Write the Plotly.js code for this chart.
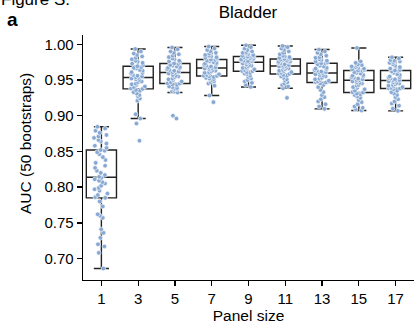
<!DOCTYPE html>
<html>
<head>
<meta charset="utf-8">
<script src="https://cdn.plot.ly/plotly-3.0.1.min.js"></script>
<style>
  html, body { margin: 0; padding: 0; background: #ffffff; }
  #chart { width: 414px; height: 325px; }
</style>
</head>
<body>
<div id="chart"></div>
<script>
// Panel sizes on the x axis
const panelSizes = ['1', '3', '5', '7', '9', '11', '13', '15', '17'];

// AUC over 50 bootstraps for each panel size
const auc1 = [0.686, 0.708, 0.717, 0.720, 0.729, 0.736, 0.741, 0.757, 0.760, 0.762, 0.773, 0.780,
  0.785, 0.786, 0.789, 0.791, 0.795, 0.797, 0.799, 0.802, 0.805, 0.807, 0.809, 0.811,
  0.813, 0.8145, 0.817, 0.820, 0.823, 0.827, 0.830, 0.834, 0.838, 0.842, 0.846, 0.849,
  0.851, 0.852, 0.855, 0.858, 0.861, 0.864, 0.866, 0.869, 0.871, 0.873, 0.876, 0.879, 0.882, 0.8845];
const auc3 = [0.865, 0.889, 0.896, 0.902, 0.921, 0.924, 0.927, 0.929, 0.931, 0.933, 0.935, 0.936,
  0.9376, 0.938, 0.940, 0.941, 0.943, 0.944, 0.945, 0.947, 0.948, 0.950, 0.951, 0.952,
  0.953, 0.9538, 0.955, 0.956, 0.957, 0.959, 0.960, 0.961, 0.963, 0.964, 0.966, 0.967,
  0.968, 0.9693, 0.971, 0.973, 0.974, 0.976, 0.977, 0.979, 0.981, 0.983, 0.985, 0.987, 0.990, 0.9934];
const auc5 = [0.896, 0.900, 0.9325, 0.934, 0.936, 0.937, 0.938, 0.939, 0.940, 0.941, 0.943, 0.944,
  0.945, 0.9455, 0.947, 0.948, 0.950, 0.951, 0.952, 0.954, 0.955, 0.956, 0.957, 0.959,
  0.960, 0.9608, 0.962, 0.963, 0.964, 0.965, 0.966, 0.967, 0.968, 0.969, 0.970, 0.971,
  0.9725, 0.973, 0.975, 0.976, 0.977, 0.979, 0.980, 0.982, 0.984, 0.986, 0.988, 0.990, 0.993, 0.9954];
const auc7 = [0.919, 0.9283, 0.942, 0.945, 0.947, 0.948, 0.950, 0.951, 0.952, 0.953, 0.954, 0.955,
  0.9557, 0.956, 0.957, 0.958, 0.959, 0.960, 0.961, 0.962, 0.963, 0.964, 0.965, 0.966,
  0.9665, 0.9673, 0.968, 0.969, 0.970, 0.971, 0.972, 0.973, 0.974, 0.975, 0.976, 0.977,
  0.978, 0.9786, 0.980, 0.981, 0.982, 0.983, 0.984, 0.985, 0.987, 0.988, 0.990, 0.992, 0.994, 0.9968];
const auc9 = [0.9403, 0.943, 0.946, 0.948, 0.950, 0.952, 0.954, 0.956, 0.958, 0.959, 0.960, 0.961,
  0.9623, 0.9627, 0.964, 0.965, 0.966, 0.967, 0.968, 0.969, 0.970, 0.971, 0.972, 0.973,
  0.9745, 0.9753, 0.976, 0.9765, 0.977, 0.9775, 0.978, 0.979, 0.980, 0.9805, 0.981, 0.982,
  0.9823, 0.9828, 0.9835, 0.984, 0.985, 0.986, 0.987, 0.988, 0.989, 0.990, 0.992, 0.994, 0.996, 0.9986];
const auc11 = [0.925, 0.9385, 0.941, 0.943, 0.945, 0.947, 0.949, 0.951, 0.953, 0.955, 0.956, 0.957,
  0.9585, 0.959, 0.960, 0.961, 0.962, 0.963, 0.964, 0.965, 0.966, 0.967, 0.968, 0.969,
  0.9693, 0.970, 0.971, 0.972, 0.973, 0.974, 0.975, 0.9755, 0.976, 0.977, 0.978, 0.9785,
  0.979, 0.9795, 0.980, 0.981, 0.982, 0.983, 0.984, 0.986, 0.988, 0.990, 0.992, 0.994, 0.996, 0.9977];
const auc13 = [0.9096, 0.913, 0.916, 0.920, 0.923, 0.926, 0.929, 0.933, 0.936, 0.940, 0.943, 0.945,
  0.9465, 0.947, 0.948, 0.949, 0.950, 0.951, 0.952, 0.953, 0.955, 0.956, 0.957, 0.958,
  0.9595, 0.9603, 0.961, 0.962, 0.963, 0.964, 0.965, 0.966, 0.967, 0.969, 0.970, 0.972,
  0.973, 0.9735, 0.9745, 0.976, 0.977, 0.978, 0.979, 0.981, 0.982, 0.984, 0.986, 0.988, 0.990, 0.9926];
const auc15 = [0.9074, 0.909, 0.911, 0.913, 0.916, 0.919, 0.922, 0.925, 0.927, 0.929, 0.930, 0.931,
  0.9325, 0.933, 0.935, 0.937, 0.939, 0.940, 0.942, 0.943, 0.945, 0.946, 0.947, 0.948,
  0.9493, 0.950, 0.951, 0.952, 0.953, 0.954, 0.955, 0.956, 0.957, 0.959, 0.960, 0.961,
  0.9628, 0.9632, 0.964, 0.965, 0.966, 0.967, 0.968, 0.969, 0.970, 0.971, 0.972, 0.974, 0.976, 0.9948];
const auc17 = [0.9068, 0.910, 0.914, 0.917, 0.920, 0.923, 0.926, 0.929, 0.931, 0.933, 0.935, 0.937,
  0.9381, 0.9385, 0.939, 0.940, 0.941, 0.942, 0.943, 0.944, 0.945, 0.946, 0.947, 0.948,
  0.949, 0.9496, 0.950, 0.951, 0.952, 0.953, 0.954, 0.955, 0.957, 0.958, 0.960, 0.962,
  0.9628, 0.9632, 0.964, 0.966, 0.968, 0.970, 0.972, 0.974, 0.975, 0.976, 0.977, 0.978, 0.980, 0.9818];

const aucBySize = [auc1, auc3, auc5, auc7, auc9, auc11, auc13, auc15, auc17];

const yTickVals = [0.70, 0.75, 0.80, 0.85, 0.90, 0.95, 1.00];

const FONT = 'Arial, "Liberation Sans", Helvetica, sans-serif';
const W = 414, H = 325;
const M = { l: 83, r: 0, t: 35, b: 45 };
const plotW = W - M.l - M.r, plotH = H - M.t - M.b;
// helpers to place page-level labels by pixel position
const px = x => (x - M.l) / plotW;
const py = y => (H - M.b - y) / plotH;

const traces = aucBySize.map((vals, i) => ({
  type: 'box',
  name: panelSizes[i],
  x: vals.map(() => panelSizes[i]),
  y: vals,
  width: 0.82,
  boxpoints: 'all',
  jitter: 0.55,
  pointpos: 0,
  whiskerwidth: 0.5,
  fillcolor: 'rgba(255,255,255,0)',
  line: { color: '#222222', width: 1.4 },
  marker: {
    color: '#87a8d3',
    size: 4.6,
    line: { color: '#ffffff', width: 0.6 }
  },
  showlegend: false,
  hoverinfo: 'y'
}));

const layout = {
  width: W,
  height: H,
  margin: M,
  paper_bgcolor: '#ffffff',
  plot_bgcolor: '#ffffff',
  font: { family: FONT, size: 15, color: '#000000' },
  title: {
    text: 'Bladder',
    font: { family: FONT, size: 17, color: '#000000' },
    x: px(248), xref: 'paper', xanchor: 'center',
    y: 1 - 12 / H, yref: 'container', yanchor: 'middle'
  },
  boxmode: 'overlay',
  xaxis: {
    type: 'category',
    categoryorder: 'array',
    categoryarray: panelSizes,
    range: [-0.5, 8.5],
    showline: true, linecolor: '#000000', linewidth: 1.3,
    ticks: 'outside', ticklen: 5, tickwidth: 1.3, tickcolor: '#000000',
    showgrid: false, zeroline: false,
    tickfont: { family: FONT, size: 15 },
    title: { text: 'Panel size', font: { family: FONT, size: 15.5 }, standoff: 2 }
  },
  yaxis: {
    range: [0.670, 1.013],
    tickmode: 'array',
    tickvals: yTickVals,
    ticktext: yTickVals.map(v => v.toFixed(2)),
    showline: true, linecolor: '#000000', linewidth: 1.3,
    ticks: 'outside', ticklen: 5, tickwidth: 1.3, tickcolor: '#000000',
    showgrid: false, zeroline: false,
    tickfont: { family: FONT, size: 15 }
  },
  annotations: [
    {
      text: 'AUC (50 bootstraps)', textangle: -90,
      xref: 'paper', yref: 'paper', x: px(25), y: py(143),
      xanchor: 'center', yanchor: 'middle', showarrow: false,
      font: { family: FONT, size: 15.5, color: '#000000' }
    },
    {
      text: '<b>a</b>',
      xref: 'paper', yref: 'paper', x: px(5), y: py(19),
      xanchor: 'left', yanchor: 'middle', showarrow: false,
      font: { family: FONT, size: 19, color: '#000000' }
    },
    {
      text: 'Figure S:',
      xref: 'paper', yref: 'paper', x: px(-1), y: py(-1),
      xanchor: 'left', yanchor: 'middle', showarrow: false,
      font: { family: FONT, size: 17, color: '#000000' }
    }
  ]
};

Plotly.newPlot('chart', traces, layout, { staticPlot: true, displayModeBar: false });
</script>
</body>
</html>
